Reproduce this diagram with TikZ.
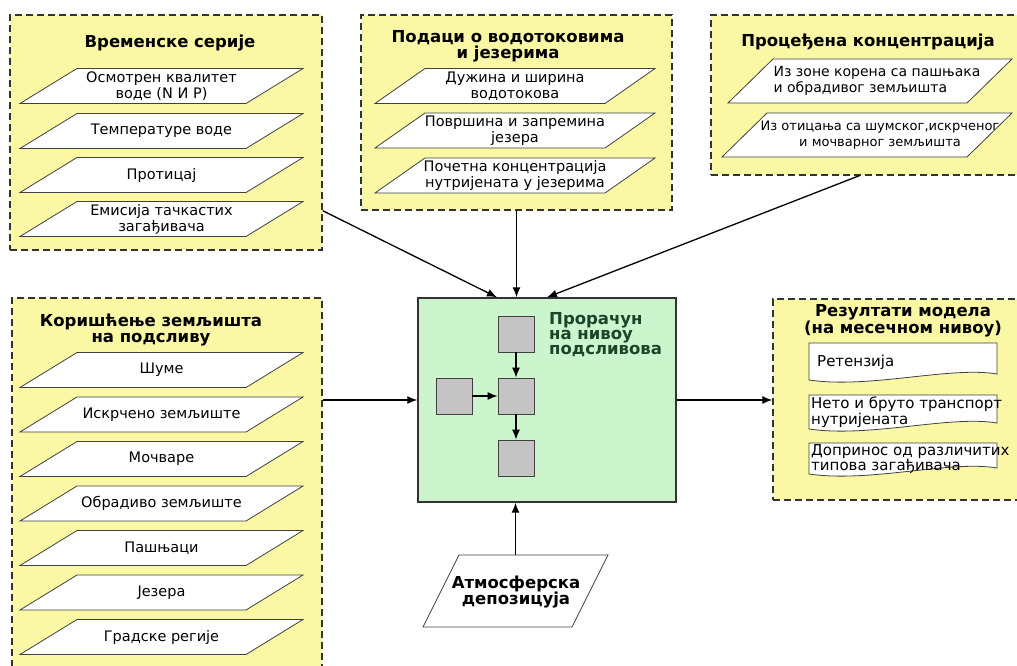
\documentclass[tikz,border=0pt]{standalone}
\usepackage{fontspec}
\setmainfont{DejaVu Sans}
\usetikzlibrary{arrows.meta,calc}

\definecolor{groupfill}{RGB}{250,247,165}
\definecolor{calcfill}{RGB}{205,245,205}
\definecolor{calctext}{RGB}{25,70,40}
\definecolor{blockfill}{RGB}{196,196,196}

\tikzset{
  group/.style={draw=black!80, line width=1.4pt, dash pattern=on 7pt off 4pt,
    fill=groupfill, inner sep=0pt},
  grouptitle/.style={font=\bfseries\fontsize{16.5}{16}\selectfont, align=center},
  paraline/.style={draw=black!75, fill=white, line width=0.8pt},
  datatext/.style={align=center, inner sep=0pt, font=\fontsize{14.5}{16}\selectfont},
  calcbox/.style={draw=black!80, line width=1.4pt, fill=calcfill,
    minimum width=258pt, minimum height=204pt},
  block/.style={draw=black!75, line width=0.9pt, fill=blockfill,
    minimum size=36pt, inner sep=0pt},
  docline/.style={draw=black!75, line width=0.8pt, fill=white},
  doctext/.style={font=\fontsize{15}{14}\selectfont, align=left, anchor=west, inner sep=0pt},
  flow/.style={->, line width=1.3pt}
}

\begin{document}
\begin{tikzpicture}[x=1pt,y=-1pt,>={Latex[length=10pt,width=8pt]}]

\useasboundingbox (0,0) rectangle (1017,666);
\clip (0,0) rectangle (1017,666);

% groups
\node[group, minimum width=312pt, minimum height=235pt] (ts) at (166,132.5) {};
\node[group, minimum width=311pt, minimum height=195pt] (wd) at (516.5,112.5) {};
\node[group, minimum width=319pt, minimum height=160pt] (pc) at (870.5,95) {};
\node[group, minimum width=310pt, minimum height=382pt] (lu) at (167,489) {};
\node[group, minimum width=257pt, minimum height=201pt] (res) at (901.5,399.5) {};

\node[grouptitle] (tstitle) at (170,43) {Временске серије};
\node[grouptitle] (wdtitle) at (508,46) {Подаци о водотоковима\\и језерима};
\node[grouptitle] (pctitle) at (868,42) {Процеђена концентрација};
\node[grouptitle] (lutitle) at (151,330) {Коришћење земљишта\\на подсливу};
\node[grouptitle] (restitle) at (903,321) {Резултати модела\\(на месечном нивоу)};

% time series
\foreach \y/\txt [count=\i] in {86/{Осмотрен квалитет\\воде (N И P)}, 131/Температуре воде,
    175/Протицај, 219/{Емисија тачкастих\\загађивача}}{
  \filldraw[paraline] (20,{\y+17.5}) -- ++(226,0) -- ++(57,-35) -- ++(-226,0) -- cycle;
  \node[datatext] (ts\i) at (161.5,\y) {\txt};
}

% rivers and lakes
\foreach \y/\txt [count=\i] in {86/{Дужина и ширина\\водотокова}, 130.5/{Површина и запремина\\језера},
    175.5/{Почетна концентрација\\нутријената у језерима}}{
  \filldraw[paraline] (375,{\y+17.5}) -- ++(230,0) -- ++(50,-35) -- ++(-230,0) -- cycle;
  \node[datatext] (wd\i) at (515,\y) {\txt};
}

% estimated concentration
\filldraw[paraline] (728,103) -- ++(239,0) -- ++(45,-44) -- ++(-239,0) -- cycle;
\filldraw[paraline] (722,157) -- ++(245,0) -- ++(45,-44) -- ++(-245,0) -- cycle;
\node[datatext, align=left, font=\fontsize{14}{16}\selectfont] (pc1) at (877,81)
  {Из зоне корена са пашњака\\и обрадивог земљишта};
\node[datatext, font=\fontsize{13}{16}\selectfont] (pc2) at (880,135)
  {Из отицања са шумског,искрченог\\и мочварног земљишта};

% land use
\foreach \txt [count=\i] in {Шуме, Искрчено земљиште, Мочваре, Обрадиво земљиште,
    Пашњаци, Језера, Градске регије}{
  \filldraw[paraline] (20,{387.5+44.5*(\i-1)}) -- ++(226,0) -- ++(57,-35) -- ++(-226,0) -- cycle;
  \node[datatext] (lu\i) at (161.5,{370+44.5*(\i-1)}) {\txt};
}

% subcatchment calculation
\node[calcbox] (sub) at (547,400) {};
\node[font=\bfseries\fontsize{16.5}{15}\selectfont, text=calctext, align=left,
  anchor=north west, inner sep=0pt] (subtitle) at (549,312) {Прорачун\\на нивоу\\подсливова};
\node[block] (b1) at (516,334) {};
\node[block] (b2) at (516,396) {};
\node[block] (b0) at (454,396) {};
\node[block] (b3) at (516,458) {};
\draw[flow, line width=1.1pt] (b1) -- (b2);
\draw[flow, line width=1.1pt] (b0) -- (b2);
\draw[flow, line width=1.1pt] (b2) -- (b3);

% atmospheric deposition
\filldraw[paraline] (423,627) -- ++(149,0) -- ++(36,-72) -- ++(-149,0) -- cycle;
\node[datatext, font=\bfseries\fontsize{16.5}{16}\selectfont] (atm) at (516,592)
  {Атмосферска\\депозицуја};
\coordinate (atmtop) at (515.5,555);

% results
\foreach \y/\h in {343/37, 395/34, 443/31}
  \filldraw[docline] (809,\y) -- (997,\y) -- (997,{\y+\h-6})
    .. controls (950,{\y+\h-14}) and (870,{\y+\h+9}) .. (809,{\y+\h}) -- cycle;
\node[doctext] (ret) at (817,362) {Ретензија};
\node[doctext] (net) at (811,412) {Нето и бруто транспорт\\нутријената};
\node[doctext] (dop) at (811,459) {Допринос од различитих\\типова загађивача};

% connectors
\draw[flow] ($(ts.south east)+(0,-40)$) -- ($(sub.north)+(-50,0)$);
\draw[flow] (wd.south) -- (wd.south |- sub.north);
\draw[flow] ($(pc.south west)+(149,0)$) -- (sub.north);
\draw[flow] (lu.east |- sub.west) -- (sub.west);
\draw[flow] (sub.east) -- (res.west |- sub.east);
\draw[flow] (atmtop) -- (atmtop |- sub.south);

\end{tikzpicture}
\end{document}
